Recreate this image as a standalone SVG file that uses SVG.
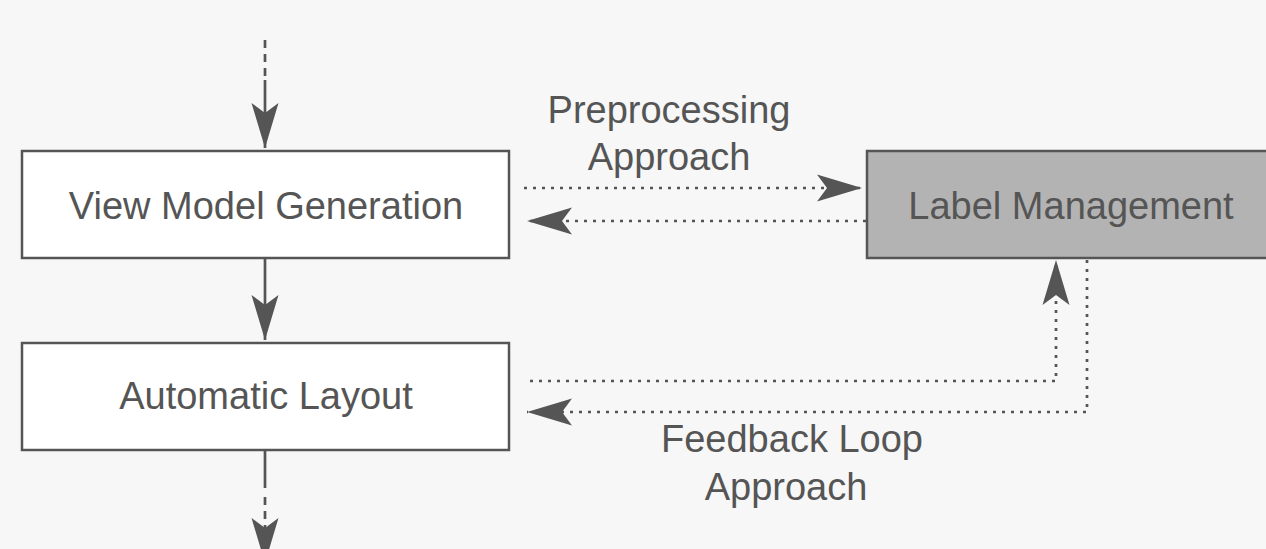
<svg xmlns="http://www.w3.org/2000/svg" width="1266" height="549" viewBox="0 0 1266 549">
<style>
.node{fill:#ffffff;stroke:#555555;stroke-width:2.5}
.gray{fill:#b3b3b3}
.t{font-family:"Liberation Sans",Arial,Helvetica,sans-serif;font-size:38px;fill:#555555;text-anchor:middle}
.solid{fill:none;stroke:#555555;stroke-width:2.7}
.dash{fill:none;stroke:#555555;stroke-width:2.7;stroke-dasharray:8 6}
.dot{fill:none;stroke:#555555;stroke-width:2.7;stroke-dasharray:3 6}
</style>
<defs>
<marker id="ah" markerUnits="userSpaceOnUse" viewBox="-46 -15 48 30" markerWidth="48" markerHeight="30" refX="0" refY="0" orient="auto">
<path d="M0,0 L-45,-13.5 L-35,0 L-45,13.5 Z" fill="#555555"/>
</marker>
</defs>
<rect width="1266" height="549" fill="#f7f7f7"/>
<g id="connectors">
<path class="dash" d="M265,40 V80"/>
<path class="solid" d="M265,80 V148" marker-end="url(#ah)"/>
<path class="solid" d="M265,258 V340" marker-end="url(#ah)"/>
<path class="solid" d="M265,450 V488"/>
<path class="dash" d="M265,497 V563" marker-end="url(#ah)"/>
<path class="dot" d="M524,188 H862" marker-end="url(#ah)"/>
<path class="dot" d="M866,221 H527" marker-end="url(#ah)"/>
<path class="dot" d="M530,381 H1056 V260" marker-end="url(#ah)"/>
<path class="dot" d="M1087,260 V412 H527" marker-end="url(#ah)"/>
</g>
<g id="label-preprocessing">
<text class="t" x="669" y="123">Preprocessing</text>
<text class="t" x="669" y="170">Approach</text>
</g>
<g id="label-feedback">
<text class="t" x="792" y="452">Feedback Loop</text>
<text class="t" x="786" y="500">Approach</text>
</g>
<g id="node-vmg">
<rect class="node" x="22" y="151" width="487" height="107"/>
<text class="t" x="266" y="219">View Model Generation</text>
</g>
<g id="node-al">
<rect class="node" x="22" y="343" width="487" height="107"/>
<text class="t" x="266" y="409">Automatic Layout</text>
</g>
<g id="node-lm">
<rect class="node gray" x="867" y="151" width="408" height="107"/>
<text class="t" x="1071" y="219">Label Management</text>
</g>
</svg>
